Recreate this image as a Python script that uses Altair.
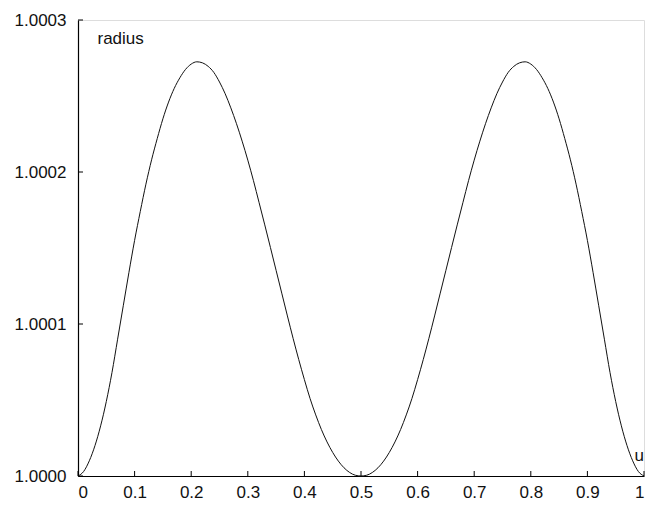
import altair as alt
import pandas as pd

# curve: u and (radius - 1) in units of 1e-4
u_vals = [0.00, 0.01, 0.02, 0.03, 0.04, 0.05, 0.06, 0.07, 0.08, 0.09,
          0.10, 0.11, 0.12, 0.13, 0.14, 0.15, 0.16, 0.17, 0.18, 0.19,
          0.20, 0.21, 0.22, 0.23, 0.24, 0.25, 0.26, 0.27, 0.28, 0.29,
          0.30, 0.31, 0.32, 0.33, 0.34, 0.35, 0.36, 0.37, 0.38, 0.39,
          0.40, 0.41, 0.42, 0.43, 0.44, 0.45, 0.46, 0.47, 0.48, 0.49,
          0.50, 0.51, 0.52, 0.53, 0.54, 0.55, 0.56, 0.57, 0.58, 0.59,
          0.60, 0.61, 0.62, 0.63, 0.64, 0.65, 0.66, 0.67, 0.68, 0.69,
          0.70, 0.71, 0.72, 0.73, 0.74, 0.75, 0.76, 0.77, 0.78, 0.79,
          0.80, 0.81, 0.82, 0.83, 0.84, 0.85, 0.86, 0.87, 0.88, 0.89,
          0.90, 0.91, 0.92, 0.93, 0.94, 0.95, 0.96, 0.97, 0.98, 0.99, 1.00]
dr_vals = [0.000, 0.030, 0.100, 0.200, 0.330, 0.490, 0.680, 0.900, 1.120, 1.340,
           1.550, 1.740, 1.920, 2.080, 2.220, 2.350, 2.460, 2.550, 2.620, 2.675,
           2.710, 2.725, 2.718, 2.695, 2.655, 2.592, 2.515, 2.422, 2.318, 2.203,
           2.078, 1.943, 1.798, 1.652, 1.503, 1.353, 1.203, 1.053, 0.906, 0.766,
           0.634, 0.510, 0.402, 0.306, 0.224, 0.155, 0.098, 0.054, 0.023, 0.005,
           0.000, 0.005, 0.023, 0.054, 0.098, 0.155, 0.224, 0.306, 0.402, 0.510,
           0.634, 0.766, 0.906, 1.053, 1.203, 1.353, 1.503, 1.652, 1.798, 1.943,
           2.078, 2.203, 2.318, 2.422, 2.515, 2.592, 2.655, 2.695, 2.718, 2.725,
           2.710, 2.675, 2.620, 2.550, 2.460, 2.350, 2.220, 2.080, 1.920, 1.740,
           1.550, 1.340, 1.120, 0.900, 0.680, 0.490, 0.330, 0.200, 0.100, 0.030, 0.000]

x_ticks = [0, 0.1, 0.2, 0.3, 0.4, 0.5, 0.6, 0.7, 0.8, 0.9, 1]
y_ticks = [1.0000, 1.0001, 1.0002, 1.0003]

W, H = 566, 456
FONT = "Liberation Sans"
FS = 17

df = pd.DataFrame({"u": u_vals, "radius": [1 + d * 1e-4 for d in dr_vals]})
xt = pd.DataFrame({"t": x_ticks})
yt = pd.DataFrame({"t": y_ticks})

xscale = alt.Scale(domain=[0, 1], nice=False, zero=False)
yscale = alt.Scale(domain=[1.0, 1.0003], nice=False, zero=False)

line = alt.Chart(df).mark_line(color="#111", strokeWidth=1, interpolate="monotone").encode(
    x=alt.X("u:Q", scale=xscale,
            axis=alt.Axis(values=x_ticks, format="~g", ticks=False, grid=False,
                          domainColor="#000", domainWidth=1.2,
                          labelFont=FONT, labelFontSize=FS, labelColor="#111",
                          labelPadding=8, labelOverlap=False,
                          title="u", titleFont=FONT, titleFontSize=FS,
                          titleFontWeight="normal", titleColor="#111",
                          titleAlign="left", titleAnchor="start", titleBaseline="alphabetic",
                          titleX=556, titleY=-16)),
    y=alt.Y("radius:Q", scale=yscale,
            axis=alt.Axis(values=y_ticks, format=".4f", ticks=False, grid=False,
                          domainColor="#000", domainWidth=1.2,
                          labelFont=FONT, labelFontSize=FS, labelColor="#111",
                          labelPadding=12, labelOverlap=False,
                          title="radius", titleFont=FONT, titleFontSize=FS,
                          titleFontWeight="normal", titleColor="#111", titleAngle=0,
                          titleAlign="left", titleAnchor="start", titleBaseline="alphabetic",
                          titleX=19, titleY=23)),
)

xtick = alt.Chart(xt).mark_rule(color="#000", strokeWidth=1).encode(
    x=alt.X("t:Q", scale=xscale), y=alt.value(H), y2=alt.value(H - 5))
ytick = alt.Chart(yt).mark_rule(color="#000", strokeWidth=1).encode(
    y=alt.Y("t:Q", scale=yscale), x=alt.value(0), x2=alt.value(5))

chart = alt.layer(line, xtick, ytick).properties(
    width=W, height=H,
    autosize=alt.AutoSizeParams(type="none"),
    padding={"left": 70, "top": 12, "right": 3, "bottom": 24},
).configure_view(stroke=None).configure(background="white")

chart.save("out.html", embed_options={"renderer": "svg", "actions": False})
